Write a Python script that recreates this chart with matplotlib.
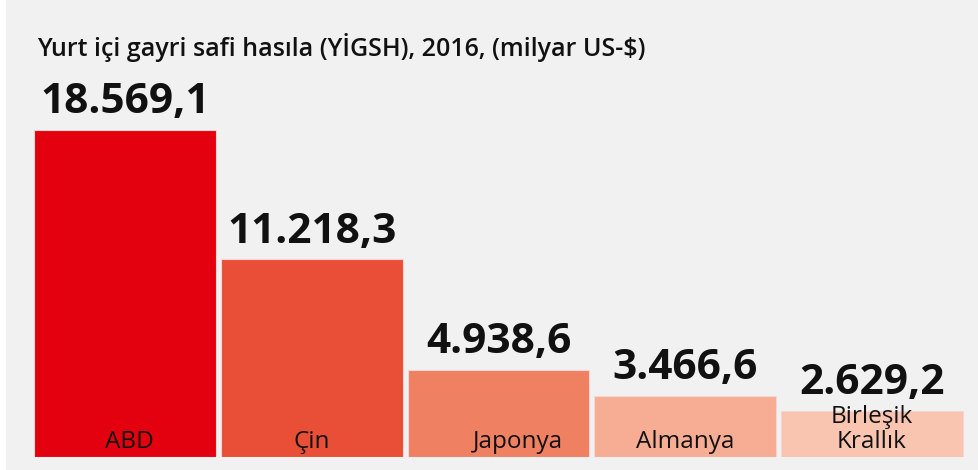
import matplotlib
matplotlib.use("Agg")
import matplotlib.pyplot as plt

# data
countries = ["ABD", "Çin", "Japonya", "Almanya", "Birleşik\nKrallık"]
gdp = [18569.1, 11218.3, 4938.6, 3466.6, 2629.2]
value_labels = ["18.569,1", "11.218,3", "4.938,6", "3.466,6", "2.629,2"]
title = "Yurt içi gayri safi hasıla (YİGSH), 2016, (milyar US-$)"

# style
colors = ["#e3000f", "#e94f37", "#f08062", "#f6ad94", "#f9c4b0"]
label_dx = [3, 0, 14, 0, 0]  # horizontal nudge of the category names, in points
bg = "#f1f1f1"

plt.rcParams["font.family"] = ["Open Sans", "DejaVu Sans"]

W, H = 979, 470
fig = plt.figure(figsize=(W / 100, H / 100), dpi=100, facecolor=bg)
# thin white strip on the left edge
fig.patches.append(plt.Rectangle((0, 0), 6 / W, 1, transform=fig.transFigure,
                                 facecolor="white", edgecolor="none"))

ax = fig.add_axes([32 / W, (H - 457) / H, (965 - 32) / W, (457 - 130) / H])
ax.set_facecolor("none")
x = range(len(gdp))
bars = ax.bar(x, gdp, width=0.975, color=colors, edgecolor="#f7d6d2", linewidth=0.8)
ax.set_xlim(-0.5, len(gdp) - 0.5)
ax.set_ylim(0, max(gdp))
ax.axis("off")

for i, (b, txt) in enumerate(zip(bars, value_labels)):
    ax.annotate(txt, (b.get_x() + b.get_width() / 2, b.get_height()),
                xytext=(0, 5), textcoords="offset points", ha="center", va="bottom",
                fontsize=30.5, fontweight="bold", color="#111111", annotation_clip=False)
    ax.annotate(countries[i], (b.get_x() + b.get_width() / 2, 0),
                xytext=(label_dx[i], 2), textcoords="offset points", ha="center", va="bottom",
                fontsize=17.5, color="#111111", linespacing=1.05)

fig.text(37 / W, 1 - 56 / H, title, fontsize=18, fontweight="semibold",
         color="#111111", ha="left", va="baseline")

fig.savefig("out.png", dpi=100, facecolor=fig.get_facecolor())
